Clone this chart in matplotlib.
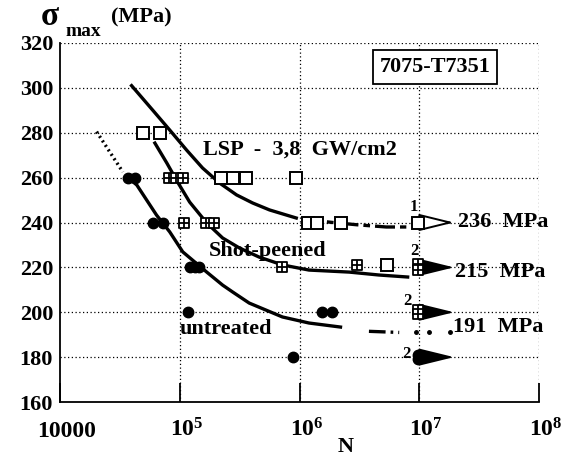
import matplotlib
matplotlib.use('Agg')
import matplotlib.pyplot as plt
from matplotlib.path import Path
import matplotlib.transforms as mtransforms

plt.rcParams['font.family'] = ['Liberation Serif', 'DejaVu Serif']
plt.rcParams['font.weight'] = 'bold'
plt.rcParams['mathtext.fontset'] = 'custom'
plt.rcParams['mathtext.rm'] = 'Liberation Serif:bold'
plt.rcParams['mathtext.bf'] = 'Liberation Serif:bold'
plt.rcParams['mathtext.it'] = 'Liberation Serif:bold'

# ---------------- data ----------------
y_ticks = [160, 180, 200, 220, 240, 260, 280, 300, 320]
x_ticks = [1e4, 1e5, 1e6, 1e7, 1e8]
x_tick_labels = ['10000', r'$10^{5}$', r'$10^{6}$', r'$10^{7}$', r'$10^{8}$']

# LSP 3.8 GW/cm2 (open squares)
lsp_N = [4.9e4, 6.9e4, 2.2e5, 2.8e5, 3.6e5, 9.4e5, 1.17e6, 1.41e6, 2.24e6, 5.4e6]
lsp_S = [280, 280, 260, 260, 260, 260, 240, 240, 240, 221]
lsp_runout_N = [9.7e6]
lsp_runout_S = [240]

# Shot-peened (crossed squares)
shot_N = [8.1e4, 9.3e4, 1.06e5, 1.08e5, 1.65e5, 1.95e5, 7.2e5, 3.0e6]
shot_S = [260, 260, 260, 240, 240, 240, 220, 221]
shot_runout_N = [9.7e6, 9.7e6, 9.7e6, 9.7e6]
shot_runout_S = [221.5, 219, 201, 199]

# Untreated (filled circles)
untr_N = [3.7e4, 4.2e4, 6.0e4, 7.2e4, 1.21e5, 1.33e5, 1.44e5, 1.17e5, 1.55e6, 1.88e6, 8.9e5]
untr_S = [260, 260, 240, 240, 220, 220, 220, 200, 200, 200, 180]
untr_runout_N = [9.7e6, 9.7e6]
untr_runout_S = [181, 179]

# run-out arrows
arrow_levels = [240, 220, 200, 180]
arrow_open = [True, False, False, False]
arrow_start = 9.7e6
arrow_end = 1.95e7

# fitted curves
lsp_curve_N = [3.96e4, 5.96e4, 8.25e4, 1.14e5, 1.55e5, 2.15e5, 2.98e5, 4.06e5, 5.62e5, 7.8e5, 9.4e5]
lsp_curve_S = [301, 290, 281.2, 272.3, 264.3, 257.6, 252.3, 248.7, 245.6, 243.3, 242]
lsp_tail_N = [1.05e6, 1.9e6, 3.0e6, 5.3e6, 7.8e6]
lsp_tail_S = [241.5, 240, 239, 238, 238]

shot_curve_N = [6.2e4, 7.8e4, 9.6e4, 1.21e5, 1.68e5, 2.28e5, 3.16e5, 4.6e5, 7.2e5, 1.2e6, 2.6e6, 4.6e6, 8.0e6]
shot_curve_S = [275.4, 266.5, 258, 249.1, 239.8, 233.1, 228.6, 224.6, 221.1, 218.8, 217.9, 216.6, 215.7]

untr_dot_N = [2.02e4, 2.6e4, 3.35e4]
untr_dot_S = [280.5, 271.5, 262.5]
untr_curve_N = [4.0e4, 4.38e4, 6.4e4, 8.25e4, 1.06e5, 1.68e5, 2.28e5, 2.77e5, 3.8e5, 7.2e5, 1.2e6, 2.2e6]
untr_curve_S = [258.5, 256.7, 243.3, 235.8, 226.9, 217.9, 212.1, 209.0, 204.1, 197.9, 195.2, 193.4]
untr_tail_N = [3.8e6, 6.8e6]
untr_tail_S = [191.5, 191]
untr_dots_N = [9.4e6, 1.2e7, 1.8e7]
untr_dots_S = [191, 191, 191]

# ---------------- figure ----------------
fig = plt.figure(figsize=(5.62, 4.57), dpi=100)
ax = fig.add_axes([60/562, 1-402/457, 479/562, 359/457])
ax.set_xscale('log')
ax.set_xlim(1e4, 1e8)
ax.set_ylim(160, 320)

for s in ['top', 'right']:
    ax.spines[s].set_visible(False)
for s in ['left', 'bottom']:
    ax.spines[s].set_linewidth(1.3)

ax.set_yticks(y_ticks)
ax.set_yticklabels([str(v) for v in y_ticks], fontsize=16, fontweight='bold')
ax.set_xticks(x_ticks)
ax.set_xticklabels(x_tick_labels, fontsize=17, fontweight='bold')
ax.xaxis.set_minor_locator(matplotlib.ticker.NullLocator())
ax.tick_params(axis='y', length=0, pad=5)
ax.tick_params(axis='x', direction='in', length=14, width=1.3, pad=25)
for lab in ax.get_xticklabels():
    lab.set_verticalalignment('baseline')
    lab.set_transform(lab.get_transform() + mtransforms.ScaledTranslation(7/100, 0, fig.dpi_scale_trans))

# dotted grid
grid_kw = dict(color='black', lw=0.9, ls=(0, (1, 2)), zorder=0)
for yv in y_ticks[1:]:
    ax.axhline(yv, **grid_kw)
for xv in x_ticks[1:]:
    ax.axvline(xv, **grid_kw)

# curves
ax.plot(lsp_curve_N, lsp_curve_S, color='black', lw=2.4, zorder=2)
ax.plot(lsp_tail_N, lsp_tail_S, color='black', lw=2.4, ls=(0, (6, 1.5, 2, 1.5)), zorder=2)
ax.plot(shot_curve_N, shot_curve_S, color='black', lw=2.4, zorder=2)
ax.plot(untr_dot_N, untr_dot_S, color='black', lw=2.4, ls=(0, (0.6, 1.0)), zorder=2)
ax.plot(untr_curve_N, untr_curve_S, color='black', lw=2.4, zorder=2)
ax.plot(untr_tail_N, untr_tail_S, color='black', lw=2.4, ls=(0, (5, 1.5, 0.8, 1.5, 0.8, 1.5)), zorder=2)
ax.plot(untr_dots_N, untr_dots_S, ls='none', marker='o', ms=2.5, color='black', zorder=2)

# markers
cross_sq = Path([(-1, -1), (1, -1), (1, 1), (-1, 1), (-1, -1), (0, -1), (0, 1), (-1, 0), (1, 0)],
                [Path.MOVETO, Path.LINETO, Path.LINETO, Path.LINETO, Path.CLOSEPOLY,
                 Path.MOVETO, Path.LINETO, Path.MOVETO, Path.LINETO])

ax.plot(lsp_N, lsp_S, ls='none', marker='s', ms=9, mfc='white', mec='black', mew=1.4, zorder=4)
ax.plot(lsp_runout_N, lsp_runout_S, ls='none', marker='s', ms=8.5, mfc='white', mec='black', mew=1.4, zorder=4)
ax.plot(shot_N, shot_S, ls='none', marker=cross_sq, ms=7, mfc='white', mec='black', mew=1.3, zorder=4)
ax.plot(shot_runout_N, shot_runout_S, ls='none', marker=cross_sq, ms=7, mfc='white', mec='black', mew=1.3, zorder=4)
ax.plot(untr_N, untr_S, ls='none', marker='o', ms=7.5, color='black', zorder=4)
ax.plot(untr_runout_N, untr_runout_S, ls='none', marker='o', ms=7.5, color='black', zorder=4)

# run-out arrows
for lev, op in zip(arrow_levels, arrow_open):
    ax.annotate('', xy=(arrow_end, lev), xytext=(arrow_start, lev),
                arrowprops=dict(arrowstyle='-|>,head_length=1.1,head_width=0.27',
                                mutation_scale=20, lw=1.4,
                                fc='white' if op else 'black', ec='black',
                                shrinkA=4, shrinkB=0), zorder=3)

# texts
tkw = dict(fontsize=16, fontweight='bold', va='center', ha='left')
ax.text(1.55e5, 272.3, 'LSP  -  3,8  GW/cm2', **tkw)
ax.text(1.75e5, 227.5, 'Shot-peened', **tkw)
ax.text(1.0e5, 192.5, 'untreated', **tkw)
ax.text(2.1e7, 240.2, '236  MPa', **tkw)
ax.text(2.0e7, 218.0, '215  MPa', **tkw)
ax.text(1.9e7, 193.4, '191  MPa', **tkw)

nkw = dict(fontsize=12, fontweight='bold', ha='center', va='center')
ax.text(9.0e6, 247, '1', **nkw)
ax.text(9.2e6, 227.5, '2', **nkw)
ax.text(8.0e6, 205, '2', **nkw)
ax.text(7.8e6, 181.5, '2', **nkw)

ax.text(0.783, 0.933, '7075-T7351', transform=ax.transAxes, fontsize=16, fontweight='bold',
        ha='center', va='center',
        bbox=dict(boxstyle='square,pad=0.3', fc='white', ec='black', lw=1.3))

# axis titles
fig.text(41/562, 1-25/457, 'σ', fontsize=24, fontweight='bold', va='baseline', ha='left')
fig.text(65/562, 1-36/457, 'max', fontsize=14, fontweight='bold', va='baseline', ha='left')
fig.text(111/562, 1-22/457, '(MPa)', fontsize=16, fontweight='bold', va='baseline', ha='left')
fig.text(346/562, 1-452/457, 'N', fontsize=16, fontweight='bold', va='baseline', ha='center')

fig.savefig('out.png', dpi=100)
